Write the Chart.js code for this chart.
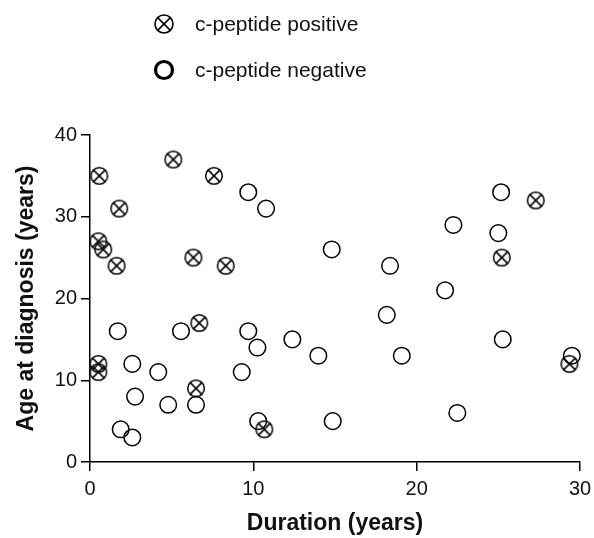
<!DOCTYPE html>
<html>
<head>
<meta charset="utf-8">
<script src="https://cdn.jsdelivr.net/npm/chart.js@4"></script>
<style>
  body { margin: 0; background: #fff; }
  #wrap { position: relative; width: 594px; height: 538px; }
  .leg { position: absolute; left: 150px; height: 28px; display: flex; align-items: center;
         font-family: "Liberation Sans", Arial, sans-serif; font-size: 21px; color: #111; }
  .leg svg { width: 28px; height: 28px; margin-right: 17px; }
</style>
</head>
<body>
<div id="wrap">
  <div class="leg" style="top:10px">
    <svg viewBox="0 0 28 28"><circle cx="14" cy="14" r="9" fill="none" stroke="#000" stroke-width="1.6"/>
      <line x1="7.6" y1="7.6" x2="20.4" y2="20.4" stroke="#000" stroke-width="1.6"/>
      <line x1="20.4" y1="7.6" x2="7.6" y2="20.4" stroke="#000" stroke-width="1.6"/></svg>
    <span>c-peptide positive</span>
  </div>
  <div class="leg" style="top:56px">
    <svg viewBox="0 0 28 28"><circle cx="14" cy="14" r="8.5" fill="none" stroke="#000" stroke-width="3.2"/></svg>
    <span>c-peptide negative</span>
  </div>
  <canvas id="scatter" width="594" height="538"></canvas>
</div>
<script>
// c-peptide positive patients (duration, age at diagnosis)
const posDuration = [0.57, 1.79, 5.1, 7.59, 0.51, 0.81, 1.63, 6.33, 8.31, 6.69, 0.51, 0.51, 6.49, 10.67, 27.29, 25.21, 29.35];
const posAge      = [35, 31, 37, 35, 27, 26, 24, 25, 24, 17, 12, 11, 9, 4, 32, 25, 12];

// c-peptide negative patients
const negDuration = [9.69, 10.78, 1.7, 5.57, 9.69, 10.25, 2.59, 4.18, 9.29, 2.76, 4.79, 6.49, 1.88, 2.59, 10.3,
                     14.8, 18.37, 12.39, 13.98, 18.17, 19.09, 14.86, 25.17, 22.25, 25.0, 21.74, 25.27, 29.5, 22.49];
const negAge      = [33, 31, 16, 16, 16, 14, 12, 11, 11, 8, 7, 7, 4, 3, 5,
                     26, 24, 15, 13, 18, 13, 5, 33, 29, 28, 21, 15, 13, 6];

const xTicks = [0, 10, 20, 30];
const yTicks = [0, 10, 20, 30, 40];

// circle with a cross in it, used as point style for the positive group
function crossCircle() {
    const c = document.createElement('canvas');
    c.width = 20; c.height = 20;
    const g = c.getContext('2d');
    g.strokeStyle = '#000';
    g.lineWidth = 1.5;
    g.beginPath();
    g.arc(10, 10, 8.3, 0, Math.PI * 2);
    g.stroke();
    const d = 8.3 * Math.SQRT1_2;
    g.beginPath();
    g.moveTo(10 - d, 10 - d); g.lineTo(10 + d, 10 + d);
    g.moveTo(10 + d, 10 - d); g.lineTo(10 - d, 10 + d);
    g.stroke();
    return c;
}

const toPoints = (xs, ys) => xs.map((x, i) => ({ x: x, y: ys[i] }));

const axisFont = { family: '"Liberation Sans", Arial, sans-serif', size: 20 };
const titleFont = { family: '"Liberation Sans", Arial, sans-serif', size: 23, weight: 'bold' };

new Chart(document.getElementById('scatter'), {
    type: 'scatter',
    data: {
        datasets: [{
            label: 'c-peptide negative',
            data: toPoints(negDuration, negAge),
            pointStyle: 'circle',
            pointRadius: 8.3,
            pointHoverRadius: 8.3,
            borderColor: '#000',
            borderWidth: 1.5,
            backgroundColor: 'rgba(0,0,0,0)',
            clip: false
        }, {
            label: 'c-peptide positive',
            data: toPoints(posDuration, posAge),
            pointStyle: crossCircle(),
            pointRadius: 9,
            borderColor: '#000',
            backgroundColor: 'rgba(0,0,0,0)',
            clip: false
        }]
    },
    options: {
        responsive: false,
        animation: false,
        layout: { padding: { top: 135, right: 14, left: 0, bottom: 0 } },
        plugins: {
            legend: { display: false },
            tooltip: { enabled: false }
        },
        scales: {
            x: {
                type: 'linear',
                min: 0, max: 30,
                afterBuildTicks: s => { s.ticks = xTicks.map(v => ({ value: v })); },
                afterFit: s => { s.height = 76; s.paddingRight = 0; s.paddingLeft = 0; },
                border: { display: true, color: '#000', width: 1.5 },
                grid: { drawOnChartArea: false, color: '#000', lineWidth: 1.5, tickLength: 9 },
                ticks: { color: '#111', font: axisFont, padding: 6 },
                title: { display: true, text: 'Duration (years)', color: '#111', font: titleFont, padding: { bottom: 1 } }
            },
            y: {
                type: 'linear',
                min: 0, max: 40,
                afterBuildTicks: s => { s.ticks = yTicks.map(v => ({ value: v })); },
                afterFit: s => { s.width = 90; s.paddingTop = 0; s.paddingBottom = 0; },
                border: { display: true, color: '#000', width: 1.5 },
                grid: { drawOnChartArea: false, color: '#000', lineWidth: 1.5, tickLength: 9 },
                ticks: { color: '#111', font: axisFont, padding: 4 },
                title: { display: true, text: 'Age at diagnosis (years)', color: '#111', font: titleFont, padding: { top: 13 } }
            }
        }
    }
});
</script>
</body>
</html>
